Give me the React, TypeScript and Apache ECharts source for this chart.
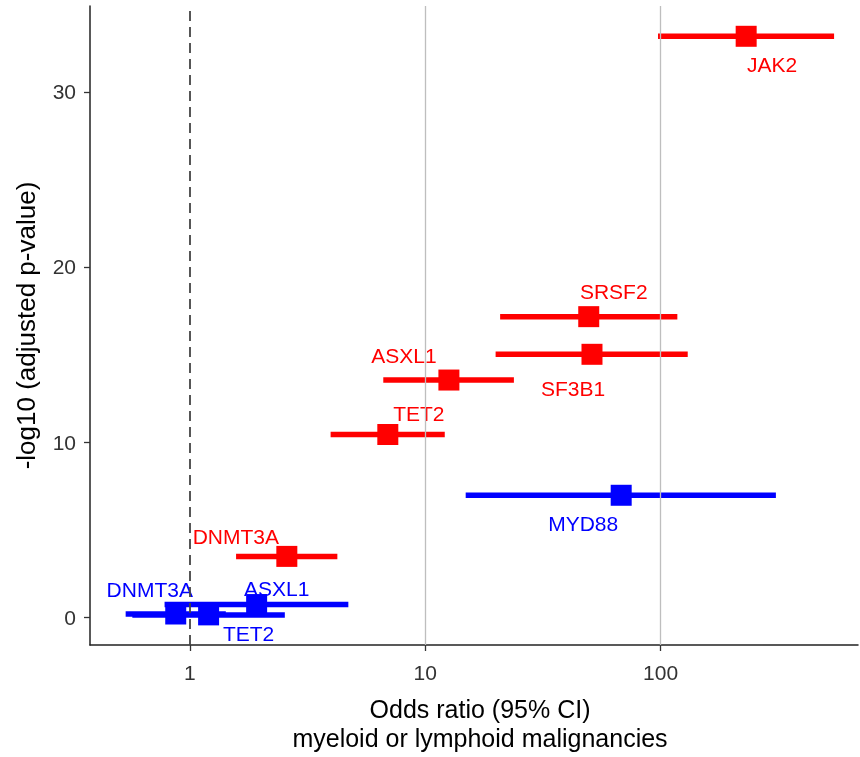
import React, { useEffect, useRef } from "react";
import * as echarts from "echarts";

// ---- data ----
const genes = ["JAK2", "SRSF2", "SF3B1", "ASXL1", "TET2", "DNMT3A", "MYD88", "DNMT3A", "ASXL1", "TET2"];
const groups = ["myeloid", "myeloid", "myeloid", "myeloid", "myeloid", "myeloid", "lymphoid", "lymphoid", "lymphoid", "lymphoid"];
const oddsRatio = [231, 49.5, 51.1, 12.6, 6.93, 2.58, 68.0, 0.87, 1.92, 1.2];
const ciLow = [97.5, 20.8, 19.9, 6.63, 3.96, 1.57, 14.85, 0.533, 0.78, 0.569];
const ciHigh = [546, 117.8, 130.4, 23.8, 12.1, 4.23, 309, 1.42, 4.71, 2.53];
const negLog10P = [33.17, 17.16, 15.01, 13.54, 10.43, 3.47, 6.96, 0.18, 0.72, 0.13];
const xTicks = [1, 10, 100];
const yTicks = [0, 10, 20, 30];

// label placement (px offsets from point centre)
const labelOffsets: number[][] = [
  [26, 28], [25, -25], [-19, 34], [-45, -25], [31, -21], [-51, -20],
  [-38, 28], [-26, -25], [20, -16], [40, 19],
];
const groupColors: Record<string, string> = { myeloid: "#FF0000", lymphoid: "#0000FF" };

export default function App() {
  const ref = useRef<HTMLDivElement>(null);
  useEffect(() => {
    if (!ref.current) return;
    const chart = echarts.init(ref.current, null, { renderer: "svg" });
    const font = "Liberation Sans, Arial, Helvetica, sans-serif";
    const ciData = genes.map((g, i) => [ciLow[i], ciHigh[i], negLog10P[i], groups[i] === "myeloid" ? 0 : 1]);
    const ptData = genes.map((g, i) => ({
      name: g,
      value: [oddsRatio[i], negLog10P[i]],
      itemStyle: { color: groupColors[groups[i]], opacity: 1 },
      label: {
        show: true,
        position: "inside",
        formatter: g,
        color: groupColors[groups[i]],
        fontSize: 21,
        fontFamily: font,
      },
    }));
    chart.setOption({
      animation: false,
      grid: { left: 90, right: 2, top: 6, bottom: 110 },
      xAxis: {
        type: "log",
        logBase: 10,
        min: 0.376,
        max: 690,
        name: "Odds ratio (95% CI)\nmyeloid or lymphoid malignancies",
        nameLocation: "middle",
        nameGap: 49,
        nameTextStyle: { fontSize: 25, color: "#000", fontFamily: font, lineHeight: 29, padding: [0, 0, 0, 12] },
        axisLine: { show: true, onZero: false, lineStyle: { color: "#222", width: 1.5 } },
        axisTick: { show: true, length: 6, lineStyle: { color: "#333", width: 1.3 }, customValues: xTicks },
        axisLabel: { fontSize: 21, color: "#333", fontFamily: font, margin: 17, customValues: xTicks, formatter: (v: number) => String(v) },
        splitLine: { show: false },
        minorTick: { show: false },
      },
      yAxis: {
        type: "value",
        min: -1.59,
        max: 34.9,
        name: "-log10 (adjusted p-value)",
        nameLocation: "middle",
        nameGap: 51,
        nameTextStyle: { fontSize: 26, color: "#000", fontFamily: font },
        axisLine: { show: true, onZero: false, lineStyle: { color: "#222", width: 1.5 } },
        axisTick: { show: true, length: 6, lineStyle: { color: "#333", width: 1.3 }, customValues: yTicks },
        axisLabel: { fontSize: 21, color: "#333", fontFamily: font, margin: 14, customValues: yTicks },
        splitLine: { show: false },
      },
      series: [
        {
          type: "line",
          data: [],
          z: 1,
          silent: true,
          markLine: {
            silent: true,
            symbol: "none",
            label: { show: false },
            data: [
              { xAxis: 10, lineStyle: { color: "#BEBEBE", width: 1.3, type: "solid" } },
              { xAxis: 100, lineStyle: { color: "#BEBEBE", width: 1.3, type: "solid" } },
              { xAxis: 1, lineStyle: { color: "#444", width: 1.8, type: [10, 6] } },
            ],
          },
        },
        {
          type: "custom",
          z: 2,
          silent: true,
          encode: { x: [0, 1], y: 2 },
          data: ciData,
          renderItem: (params: any, api: any) => {
            const p1 = api.coord([api.value(0), api.value(2)]);
            const p2 = api.coord([api.value(1), api.value(2)]);
            const color = api.value(3) === 0 ? groupColors.myeloid : groupColors.lymphoid;
            return {
              type: "line",
              shape: { x1: p1[0], y1: p1[1], x2: p2[0], y2: p2[1] },
              style: { stroke: color, lineWidth: 5.5 },
            };
          },
        },
        {
          type: "scatter",
          z: 3,
          symbol: "rect",
          symbolSize: 21,
          data: ptData,
          labelLayout: (p: any) => ({
            dx: labelOffsets[p.dataIndex][0],
            dy: labelOffsets[p.dataIndex][1],
            hideOverlap: false,
          }),
        },
      ],
    });
    return () => chart.dispose();
  }, []);
  return <div ref={ref} style={{ position: "fixed", left: 0, top: 0, width: 860, height: 757 }} />;
}
